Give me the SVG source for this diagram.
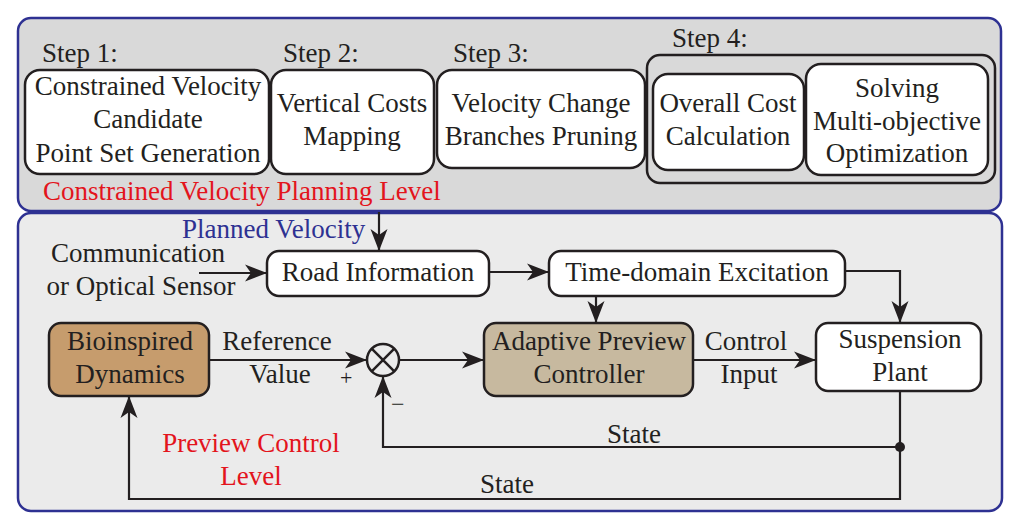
<svg xmlns="http://www.w3.org/2000/svg" width="1023" height="528" viewBox="0 0 1023 528">
<style>
text{font-family:"Liberation Serif","Times New Roman",serif;font-size:27px;fill:#231f20}
.c{text-anchor:middle}
.red{fill:#e3141c}
.blue{fill:#2e3192}
.panel{stroke:#2e3192;stroke-width:2.5}
.box{fill:#fff;stroke:#231f20;stroke-width:2.5}
.ln{fill:none;stroke:#231f20;stroke-width:2.2}
.arr{marker-end:url(#ah)}
</style>
<defs>
<marker id="ah" markerUnits="userSpaceOnUse" markerWidth="22" markerHeight="17" refX="22" refY="8.5" orient="auto" overflow="visible">
<path d="M0,0 L22,8.5 L0,17 L6,8.5 Z" fill="#231f20"/>
</marker>
</defs>
<rect width="1023" height="528" fill="#fff"/>
<g id="planning-level">
<rect class="panel" x="18" y="18" width="983" height="193" rx="13" fill="#d9d9d9"/>
<text class="red" x="43" y="200">Constrained Velocity Planning Level</text>
</g>
<g id="control-level">
<rect class="panel" x="18" y="213" width="984" height="298" rx="13" fill="#ebebeb"/>
<text class="red c" x="251" y="452">Preview Control</text>
<text class="red c" x="251" y="485">Level</text>
</g>
<g id="step1">
<text x="42" y="62">Step 1:</text>
<rect class="box" x="25" y="70" width="244" height="104" rx="15"/>
<text class="c" x="148" y="95">Constrained Velocity</text>
<text class="c" x="148" y="128">Candidate</text>
<text class="c" x="148" y="162">Point Set Generation</text>
</g>
<g id="step2">
<text x="283" y="62">Step 2:</text>
<rect class="box" x="271" y="70" width="163" height="104" rx="15"/>
<text class="c" x="352" y="112">Vertical Costs</text>
<text class="c" x="352" y="145">Mapping</text>
</g>
<g id="step3">
<text x="453" y="62">Step 3:</text>
<rect class="box" x="437" y="70" width="208" height="98" rx="15"/>
<text class="c" x="541" y="112">Velocity Change</text>
<text class="c" x="541" y="145">Branches Pruning</text>
</g>
<g id="step4">
<text x="672" y="47">Step 4:</text>
<rect x="647" y="55" width="348" height="128" rx="13" fill="#d9d9d9" stroke="#231f20" stroke-width="2.5"/>
</g>
<g id="overall-cost">
<rect class="box" x="653" y="74" width="151" height="96" rx="15"/>
<text class="c" x="728" y="112">Overall Cost</text>
<text class="c" x="728" y="145">Calculation</text>
</g>
<g id="solving">
<rect class="box" x="806" y="64" width="182" height="111" rx="15"/>
<text class="c" x="897" y="97">Solving</text>
<text class="c" x="897" y="130">Multi-objective</text>
<text class="c" x="897" y="162">Optimization</text>
</g>
<g id="sensor">
<text class="c" x="138" y="262">Communication</text>
<text class="c" x="141" y="295">or Optical Sensor</text>
</g>
<g id="road-info">
<rect class="box" x="267" y="251" width="222" height="45" rx="12"/>
<text class="c" x="378" y="281">Road Information</text>
</g>
<g id="time-domain">
<rect class="box" x="549" y="251" width="296" height="45" rx="12"/>
<text class="c" x="697" y="281">Time-domain Excitation</text>
</g>
<g id="bioinspired">
<rect x="49" y="323" width="160" height="73" rx="12" fill="#c69c6d" stroke="#231f20" stroke-width="2.5"/>
<text class="c" x="130" y="350">Bioinspired</text>
<text class="c" x="130" y="383">Dynamics</text>
</g>
<g id="sum">
<circle cx="383" cy="360" r="16" fill="none" stroke="#231f20" stroke-width="2.5"/>
<path d="M371.7,348.7 L394.3,371.3 M394.3,348.7 L371.7,371.3" stroke="#231f20" stroke-width="2.5"/>
</g>
<g id="adaptive">
<rect x="484" y="323" width="209" height="73" rx="12" fill="#c7b99f" stroke="#231f20" stroke-width="2.5"/>
<text class="c" x="589" y="350">Adaptive Preview</text>
<text class="c" x="589" y="383">Controller</text>
</g>
<g id="suspension">
<rect class="box" x="816" y="323" width="165" height="68" rx="12"/>
<text class="c" x="900" y="348">Suspension</text>
<text class="c" x="900" y="381">Plant</text>
</g>
<g id="connectors">
<path class="ln arr" d="M379,212 V251"/>
<path class="ln arr" d="M199,273 H267"/>
<path class="ln arr" d="M489,272 H549"/>
<path class="ln arr" d="M596,296 V323"/>
<path class="ln arr" d="M845,271 H900 V323"/>
<path class="ln arr" d="M209,360 H367"/>
<path class="ln arr" d="M399,360 H484"/>
<path class="ln arr" d="M693,360 H816"/>
<path class="ln arr" d="M900,447 H383 V376"/>
<path class="ln arr" d="M900,391 V499 H129 V396"/>
<circle cx="900" cy="447" r="5" fill="#231f20"/>
<text class="blue" x="182" y="238">Planned Velocity</text>
<text class="c" x="277" y="350">Reference</text>
<text class="c" x="280" y="383">Value</text>
<text x="340" y="385" style="font-size:22px">+</text>
<text x="391" y="412" style="font-size:24px">−</text>
<text class="c" x="746" y="350">Control</text>
<text class="c" x="749" y="383">Input</text>
<text class="c" x="634" y="443">State</text>
<text class="c" x="507" y="493">State</text>
</g>
</svg>
